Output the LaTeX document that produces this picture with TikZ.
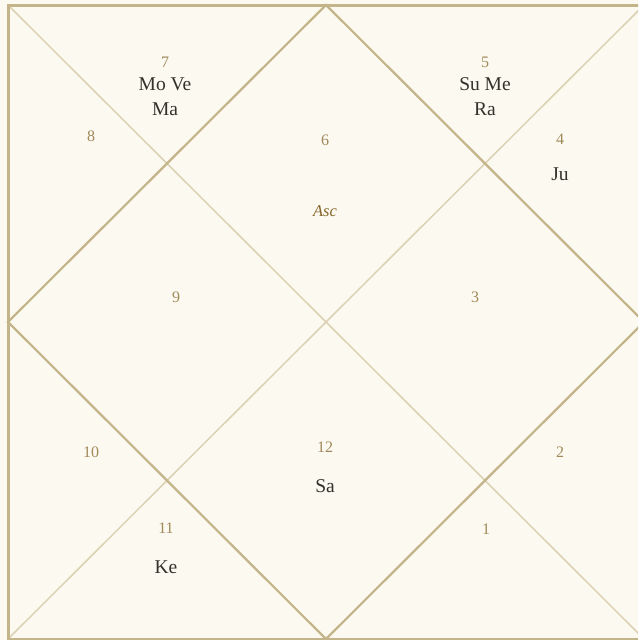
\documentclass[tikz,border=0pt]{standalone}
\usepackage{fontspec}
\setmainfont{Liberation Serif}
\usepackage{xcolor}
\usetikzlibrary{positioning}

\definecolor{chartbg}{HTML}{FCF9F1}
\definecolor{chartline}{HTML}{C4B48A}
\definecolor{chartdiag}{HTML}{DBD1B3}
\definecolor{housenum}{HTML}{A08A5A}
\definecolor{planettxt}{HTML}{33322A}
\definecolor{asctxt}{HTML}{86652A}

\begin{document}
\begin{tikzpicture}[x=1pt, y=-1pt,
  frame/.style={draw=chartline, line width=3pt},
  diamond/.style={draw=chartline, line width=2.2pt, line join=miter},
  diag/.style={draw=chartdiag, line width=1.5pt},
  housenr/.style={text=housenum, font=\fontsize{16}{18}\selectfont, inner sep=0pt},
  planets/.style={text=planettxt, font=\fontsize{19.5}{25}\selectfont, align=center, inner sep=0pt},
  asclbl/.style={text=asctxt, font=\fontsize{16.5}{18}\selectfont\itshape, inner sep=0pt},
]

\fill[chartbg] (0,0) rectangle (638,640);
\useasboundingbox (0,0) rectangle (638,640);
\clip (0,0) rectangle (638,640);

% corners and midpoints of the chart
\coordinate (tl) at (8,5);
\coordinate (tr) at (644,5);
\coordinate (bl) at (8,639);
\coordinate (br) at (644,639);
\coordinate (tm) at (326,5);
\coordinate (bm) at (326,639);
\coordinate (lm) at (8,322);
\coordinate (rm) at (644,322);

\draw[diag] (tl) -- (br);
\draw[diag] (tr) -- (bl);
\draw[diamond] (lm) -- (tm) -- (rm) -- (bm) -- cycle;
\draw[frame] (tl) rectangle (br);

% house numbers
\node[housenr] (h1) at (486,529) {1};
\node[housenr] (h2) at (560,452) {2};
\node[housenr] (h3) at (475,297) {3};
\node[housenr] (h4) at (560,139) {4};
\node[housenr] (h5) at (485,62) {5};
\node[housenr] (h6) at (325,140) {6};
\node[housenr] (h7) at (165,62) {7};
\node[housenr] (h8) at (91,136) {8};
\node[housenr] (h9) at (176,297) {9};
\node[housenr] (h10) at (91,452) {10};
\node[housenr] (h11) at (166,528) {11};
\node[housenr] (h12) at (325,447) {12};

% planets
\node[planets] (p7) at (165,97) {Mo Ve\\Ma};
\node[planets] (p5) at (485,97) {Su Me\\Ra};
\node[planets] (p4) at (560,174) {Ju};
\node[asclbl] (asc) at (325,211) {Asc};
\node[planets] (p12) at (325,486) {Sa};
\node[planets] (p11) at (166,567) {Ke};

\end{tikzpicture}
\end{document}
